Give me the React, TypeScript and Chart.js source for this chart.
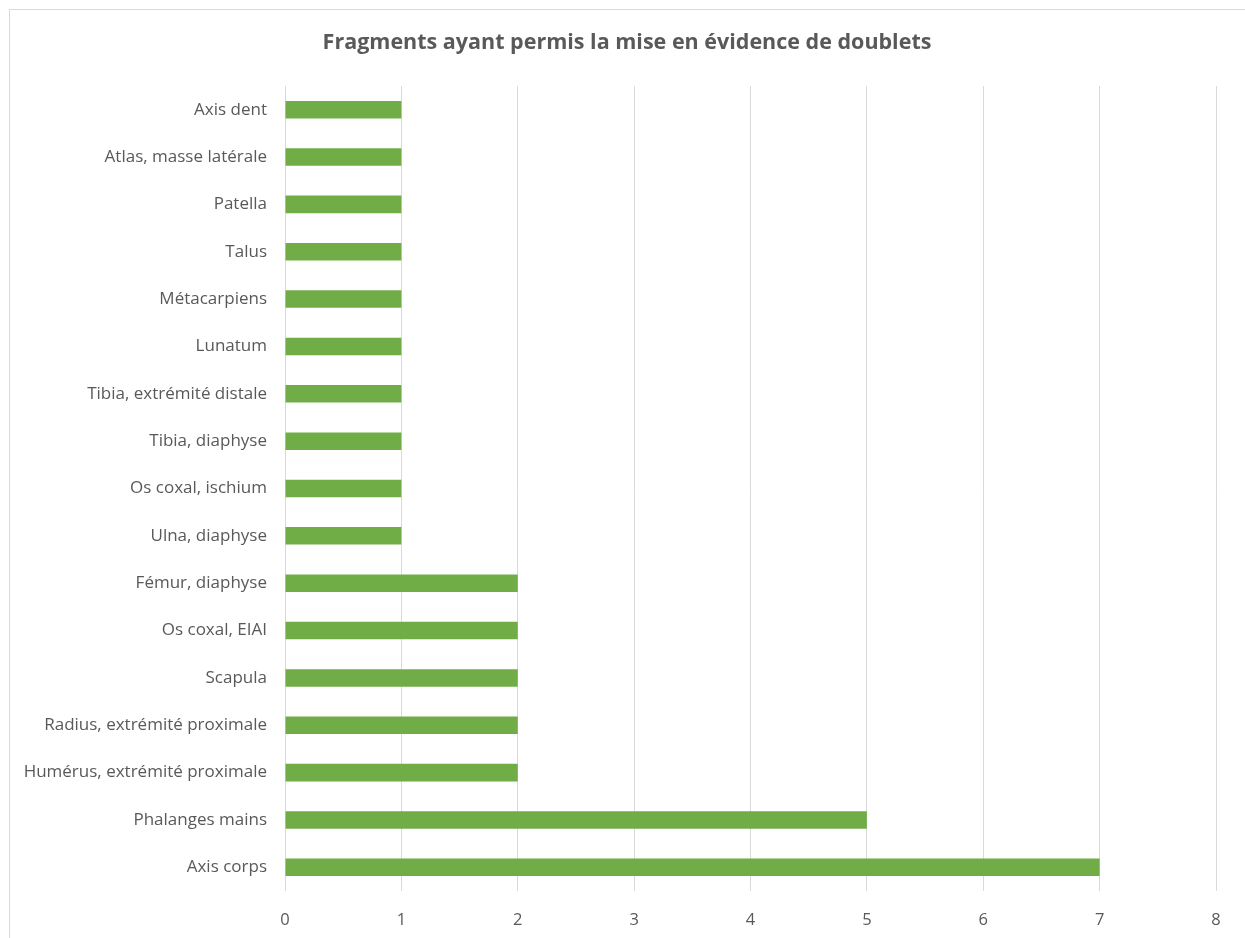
import React, { useEffect, useRef } from "react";
import { Chart, registerables } from "chart.js";

Chart.register(...registerables);

const titleText = "Fragments ayant permis la mise en évidence de doublets";

const categories = [
  "Axis dent",
  "Atlas, masse latérale",
  "Patella",
  "Talus",
  "Métacarpiens",
  "Lunatum",
  "Tibia, extrémité distale",
  "Tibia, diaphyse",
  "Os coxal, ischium",
  "Ulna, diaphyse",
  "Fémur, diaphyse",
  "Os coxal, EIAI",
  "Scapula",
  "Radius, extrémité proximale",
  "Humérus, extrémité proximale",
  "Phalanges mains",
  "Axis corps",
];

const counts = [1, 1, 1, 1, 1, 1, 1, 1, 1, 1, 2, 2, 2, 2, 2, 5, 7];

const xTicks = [0, 1, 2, 3, 4, 5, 6, 7, 8];

const titlePlugin = {
  id: "centeredTitle",
  afterDraw(chart: any) {
    const ctx = chart.ctx;
    ctx.save();
    ctx.font = "bold 21.5px 'Open Sans'";
    ctx.fillStyle = "#595959";
    ctx.textAlign = "center";
    ctx.textBaseline = "middle";
    ctx.fillText(titleText, 627, 43);
    ctx.restore();
  },
};

export default function App() {
  const ref = useRef<HTMLCanvasElement>(null);

  useEffect(() => {
    if (!ref.current) return;
    const chart = new Chart(ref.current, {
      type: "bar",
      data: {
        labels: categories,
        datasets: [
          {
            data: counts,
            backgroundColor: "#70AD47",
            borderWidth: 0,
            barPercentage: 0.37,
            categoryPercentage: 1,
          },
        ],
      },
      plugins: [titlePlugin],
      options: {
        indexAxis: "y",
        responsive: false,
        animation: false,
        layout: { padding: { left: 0, right: 29, top: 86, bottom: 0 } },
        plugins: {
          legend: { display: false },
          tooltip: { enabled: false },
          title: { display: false },
        },
        scales: {
          x: {
            min: xTicks[0],
            max: xTicks[xTicks.length - 1],
            afterBuildTicks: (scale: any) => {
              scale.ticks = xTicks.map((v) => ({ value: v }));
            },
            afterFit: (scale: any) => {
              scale.height = 47;
            },
            grid: { color: "#d9d9d9", lineWidth: 1, drawTicks: false },
            border: { display: false },
            ticks: {
              color: "#595959",
              font: { family: "Open Sans", size: 16.5 },
              padding: 19,
            },
          },
          y: {
            afterFit: (scale: any) => {
              scale.width = 285;
            },
            grid: { display: false, drawTicks: false },
            border: { display: false },
            ticks: {
              color: "#595959",
              font: { family: "Open Sans", size: 17 },
              padding: 18,
              autoSkip: false,
            },
          },
        },
      },
    });
    return () => chart.destroy();
  }, []);

  return (
    <div style={{ position: "fixed", left: 0, top: 0, width: 1245, height: 938, background: "#fff", overflow: "hidden" }}>
      <div
        style={{
          position: "absolute",
          left: 9,
          top: 9,
          right: 0,
          bottom: 0,
          borderTop: "1px solid #d9d9d9",
          borderLeft: "1px solid #d9d9d9",
        }}
      />
      <canvas ref={ref} width={1245} height={938} style={{ position: "absolute", left: 0, top: 0 }} />
    </div>
  );
}
